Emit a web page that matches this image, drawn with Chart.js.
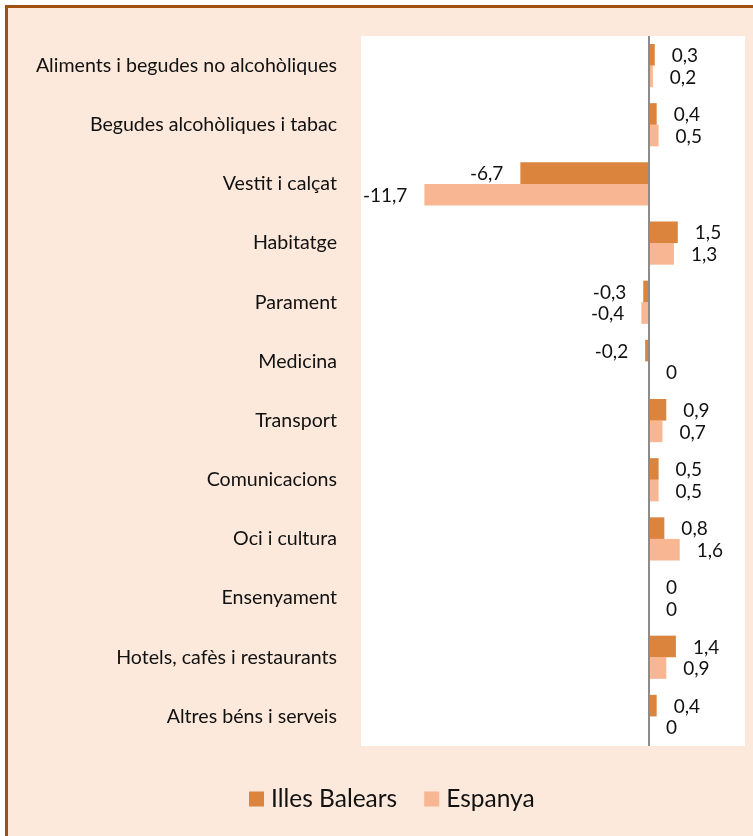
<!DOCTYPE html>
<html><head><meta charset="utf-8">
<script src="https://cdn.jsdelivr.net/npm/chart.js@4/dist/chart.umd.min.js"></script>
<style>html,body{margin:0;padding:0;background:#fff;overflow:hidden;} canvas{display:block;}</style>
</head><body>
<canvas id="c" width="753" height="836"></canvas>
<script>
const categories = [
  'Aliments i begudes no alcohòliques',
  'Begudes alcohòliques i tabac',
  'Vestit i calçat',
  'Habitatge',
  'Parament',
  'Medicina',
  'Transport',
  'Comunicacions',
  'Oci i cultura',
  'Ensenyament',
  'Hotels, cafès i restaurants',
  'Altres béns i serveis'
];
const illesBalears = [0.3, 0.4, -6.7, 1.5, -0.3, -0.2, 0.9, 0.5, 0.8, 0, 1.4, 0.4];
const espanya      = [0.2, 0.5, -11.7, 1.3, -0.4, 0, 0.7, 0.5, 1.6, 0, 0.9, 0];
const seriesNames  = ['Illes Balears', 'Espanya'];
const xMin = -15, xMax = 5;

const COL_IB = '#DA843E';
const COL_ES = '#F8B692';
const BG = '#FCE9DB';
const BORDER = '#A0510F';
const FONT = 'Lato, "Open Sans", sans-serif';
const CAT_SIZE = 19.6;
const LABEL_SIZE = 19;
const LEGEND_SIZE = 24.5;

function fmt(v) { return String(v).replace('.', ','); }

const bgPlugin = {
  id: 'bg',
  beforeDraw(chart) {
    const ctx = chart.ctx, a = chart.chartArea;
    ctx.save();
    ctx.fillStyle = '#ffffff';
    ctx.fillRect(0, 0, chart.width, chart.height);
    ctx.fillStyle = BG;
    ctx.fillRect(7, 7, chart.width, chart.height);
    ctx.strokeStyle = BORDER;
    ctx.lineWidth = 3;
    ctx.strokeRect(6.5, 6.5, chart.width + 20, chart.height + 20);
    ctx.fillStyle = '#ffffff';
    ctx.fillRect(a.left, a.top, a.right - a.left, a.bottom - a.top);
    ctx.restore();
  }
};

const overlayPlugin = {
  id: 'overlay',
  afterDatasetsDraw(chart) {
    const ctx = chart.ctx, a = chart.chartArea;
    const x0 = chart.scales.x.getPixelForValue(0);
    ctx.save();
    ctx.strokeStyle = '#8C8C8C';
    ctx.lineWidth = 2;
    ctx.beginPath();
    ctx.moveTo(x0, a.top);
    ctx.lineTo(x0, a.bottom);
    ctx.stroke();

    ctx.font = LABEL_SIZE + 'px ' + FONT;
    ctx.fillStyle = '#111111';
    ctx.textBaseline = 'middle';
    chart.data.datasets.forEach((ds, di) => {
      const meta = chart.getDatasetMeta(di);
      meta.data.forEach((bar, i) => {
        const v = ds.data[i];
        const off = 17;
        if (v < 0) {
          ctx.textAlign = 'right';
          ctx.fillText(fmt(v), bar.x - off, bar.y + 1);
        } else {
          ctx.textAlign = 'left';
          ctx.fillText(fmt(v), bar.x + off, bar.y + 1);
        }
      });
    });

    // legend
    ctx.font = LEGEND_SIZE + 'px ' + FONT;
    ctx.textAlign = 'left';
    ctx.textBaseline = 'middle';
    let x = 249;
    const yc = 799;
    chart.data.datasets.forEach((ds) => {
      ctx.fillStyle = ds.backgroundColor;
      ctx.fillRect(x, yc - 7.5, 15, 15);
      ctx.fillStyle = '#111111';
      ctx.fillText(ds.label, x + 22, yc);
      x += 22 + ctx.measureText(ds.label).width + 27;
    });
    ctx.restore();
  }
};

new Chart(document.getElementById('c'), {
  type: 'bar',
  data: {
    labels: categories,
    datasets: [
      { label: seriesNames[0], data: illesBalears, backgroundColor: COL_IB, categoryPercentage: 0.73, barPercentage: 1.0 },
      { label: seriesNames[1], data: espanya, backgroundColor: COL_ES, categoryPercentage: 0.73, barPercentage: 1.0 }
    ]
  },
  options: {
    indexAxis: 'y',
    responsive: false,
    animation: false,
    devicePixelRatio: 1,
    layout: { padding: { top: 36, right: 8, bottom: 90, left: 0 } },
    plugins: { legend: { display: false }, tooltip: { enabled: false } },
    scales: {
      x: { display: false, min: xMin, max: xMax },
      y: {
        grid: { display: false, drawTicks: false },
        border: { display: false },
        ticks: { padding: 24, color: '#111111', font: { family: FONT, size: CAT_SIZE } },
        afterFit(scale) { scale.width = 361; }
      }
    }
  },
  plugins: [bgPlugin, overlayPlugin]
});
</script>
</body></html>
